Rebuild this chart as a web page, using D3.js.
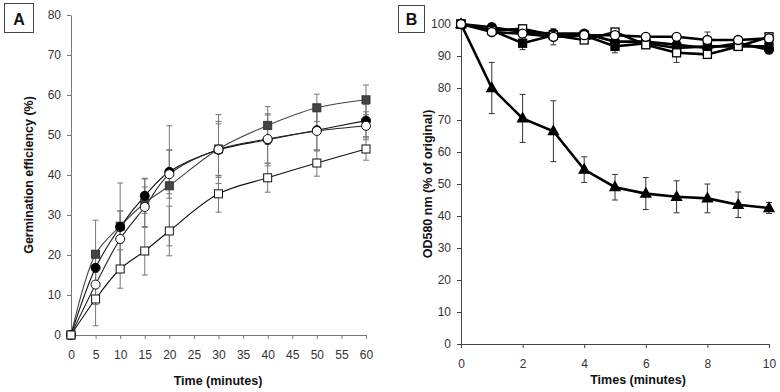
<!DOCTYPE html>
<html>
<head>
<meta charset="utf-8">
<script src="https://cdn.jsdelivr.net/npm/d3@7"></script>
<style>
  body { margin: 0; background: #fff; }
  text { font-family: "Liberation Sans", Arial, sans-serif; }
</style>
</head>
<body>
<svg id="chart" width="780" height="392"></svg>
<script>
// panel A data (germination efficiency, %)
const timeA = [0, 5, 10, 15, 20, 30, 40, 50, 60];
const aFilledSquare = [0, 20.2, 27.2, 33.0, 37.3, 46.5, 52.4, 56.8, 58.8];
const aFilledSquareErr = [0, 8.5, 10.8, 6.0, 15.0, 8.6, 4.7, 3.4, 3.7];
const aFilledCircle = [0, 16.8, 27.0, 34.8, 40.8, 46.3, 48.8, 51.2, 53.6];
const aFilledCircleErr = [0, 4.0, 4.0, 4.4, 5.5, 6.5, 6.5, 5.0, 4.0];
const aOpenCircle = [0, 12.6, 24.0, 32.0, 40.2, 46.4, 49.0, 51.0, 52.3];
const aOpenCircleErr = [0, 5.0, 7.0, 5.0, 6.0, 7.0, 6.0, 5.0, 3.5];
const aOpenSquare = [0, 9.0, 16.5, 21.0, 26.0, 35.3, 39.3, 43.0, 46.5];
const aOpenSquareErr = [0, 6.7, 4.8, 6.0, 6.2, 4.6, 3.6, 3.3, 2.8];
const ticksAx = d3.range(0, 61, 5);
const ticksAy = d3.range(0, 81, 10);

// panel B data (OD580 nm, % of original)
const timeB = [0, 1, 2, 3, 4, 5, 6, 7, 8, 9, 10];
const bTriangle = [100, 80, 70.5, 66.5, 54.5, 49, 47, 46, 45.5, 43.5, 42.5];
const bTriangleErr = [0, 8, 7.5, 9.5, 4, 4, 5, 5, 4.5, 4, 1.7];
const bOpenSquare = [100, 98, 98.5, 96.5, 95, 97.5, 93.5, 91, 90.5, 93, 96];
const bOpenSquareErr = [0, 1, 0.8, 1, 1, 1, 1, 3, 1, 1, 1];
const bOpenCircle = [100, 97.5, 97, 96, 96.5, 96.5, 96, 96, 95, 95, 95.5];
const bOpenCircleErr = [0, 1, 1, 2.5, 1, 1, 1, 1, 2.5, 1, 1];
const bFilledSquare = [100, 98, 94, 96.5, 96.5, 93, 94, 92.5, 93, 93, 93];
const bFilledSquareErr = [0, 1, 2, 1, 1, 2, 1, 1, 1, 1, 1];
const bFilledCircle = [100, 99, 97.5, 97, 97, 94.5, 94.5, 93.5, 92.5, 94, 92];
const bFilledCircleErr = [0, 1, 1, 1, 1, 1, 1, 1, 1, 1, 1];
const ticksBx = [0, 2, 4, 6, 8, 10];
const ticksBy = d3.range(0, 101, 10);

var svg = d3.select('#chart');
svg.append('rect').attr('width', 780).attr('height', 392).attr('fill', '#fff');

// ---- panel A ----
var xA = d3.scaleLinear().domain([0, 60]).range([71, 366]);
var yA = d3.scaleLinear().domain([0, 80]).range([335, 15]);

var gA = svg.append('g');

function styleAxis(g, color) {
  g.select('.domain').attr('stroke', color).attr('stroke-width', 1);
  g.selectAll('.tick line').attr('stroke', color);
  g.selectAll('.tick text').attr('fill', '#333').attr('font-size', 12);
}

gA.append('g')
  .attr('transform', 'translate(0,335)')
  .call(d3.axisBottom(xA).tickValues(ticksAx).tickSize(4).tickSizeOuter(0).tickPadding(11))
  .call(g => styleAxis(g, '#777'));

gA.append('g')
  .attr('transform', 'translate(71,0)')
  .call(d3.axisLeft(yA).tickValues(ticksAy).tickSize(4).tickSizeOuter(0).tickPadding(6))
  .call(g => styleAxis(g, '#777'));

function errorBars(g, x, y, xs, ys, es, color, cap, width) {
  xs.forEach(function(t, i) {
    if (!es[i]) return;
    var cx = x(t), y0 = y(ys[i] - es[i]), y1 = y(ys[i] + es[i]);
    g.append('line').attr('x1', cx).attr('x2', cx).attr('y1', y0).attr('y2', y1)
      .attr('stroke', color).attr('stroke-width', width);
    [y0, y1].forEach(function(yy) {
      g.append('line').attr('x1', cx - cap).attr('x2', cx + cap).attr('y1', yy).attr('y2', yy)
        .attr('stroke', color).attr('stroke-width', width);
    });
  });
}

function marker(g, kind, cx, cy, size, fill, stroke, sw) {
  var s = size / 2;
  if (kind == 'square') {
    g.append('rect').attr('x', cx - s).attr('y', cy - s).attr('width', size).attr('height', size)
      .attr('fill', fill).attr('stroke', stroke).attr('stroke-width', sw);
  } else if (kind == 'circle') {
    g.append('circle').attr('cx', cx).attr('cy', cy).attr('r', s)
      .attr('fill', fill).attr('stroke', stroke).attr('stroke-width', sw);
  } else {
    g.append('path')
      .attr('d', 'M' + cx + ',' + (cy - s - 1) + 'L' + (cx + s + 0.5) + ',' + (cy + s - 1) + 'L' + (cx - s - 0.5) + ',' + (cy + s - 1) + 'Z')
      .attr('fill', fill).attr('stroke', stroke).attr('stroke-width', sw);
  }
}

var seriesA = [
  {vals: aFilledSquare, err: aFilledSquareErr, kind: 'square', fill: '#444', stroke: '#333', line: '#444'},
  {vals: aFilledCircle, err: aFilledCircleErr, kind: 'circle', fill: '#000', stroke: '#000', line: '#111'},
  {vals: aOpenCircle, err: aOpenCircleErr, kind: 'circle', fill: '#fff', stroke: '#111', line: '#222'},
  {vals: aOpenSquare, err: aOpenSquareErr, kind: 'square', fill: '#fff', stroke: '#111', line: '#111'}
];

var ebA = gA.append('g');
seriesA.forEach(function(s) {
  errorBars(ebA, xA, yA, timeA, s.vals, s.err, '#777', 3, 1);
});

var lineA = d3.line().x(d => xA(d[0])).y(d => yA(d[1])).curve(d3.curveCatmullRom.alpha(0.5));
seriesA.forEach(function(s) {
  gA.append('path').attr('d', lineA(d3.zip(timeA, s.vals)))
    .attr('fill', 'none').attr('stroke', s.line).attr('stroke-width', 1.1);
});
seriesA.forEach(function(s) {
  timeA.forEach(function(t, i) {
    marker(gA, s.kind, xA(t), yA(s.vals[i]), s.kind == 'square' ? 8 : 9, s.fill, s.stroke, 1);
  });
});

gA.append('text').attr('x', 218).attr('y', 385).attr('text-anchor', 'middle')
  .attr('font-size', 12.5).attr('font-weight', 'bold').attr('fill', '#111').text('Time (minutes)');
gA.append('text').attr('transform', 'translate(33,175) rotate(-90)').attr('text-anchor', 'middle')
  .attr('font-size', 12.5).attr('font-weight', 'bold').attr('fill', '#111').text('Germination efficiency (%)');

gA.append('rect').attr('x', 4.5).attr('y', 3.5).attr('width', 29).attr('height', 29)
  .attr('fill', '#fff').attr('stroke', '#444').attr('stroke-width', 1);
gA.append('text').attr('x', 19).attr('y', 24.5).attr('text-anchor', 'middle')
  .attr('font-size', 16).attr('font-weight', 'bold').attr('fill', '#111').text('A');

// ---- panel B ----
var xB = d3.scaleLinear().domain([0, 10]).range([461, 769]);
var yB = d3.scaleLinear().domain([0, 100]).range([344, 24]);

var gB = svg.append('g');

gB.append('g')
  .attr('transform', 'translate(0,344)')
  .call(d3.axisBottom(xB).tickValues(ticksBx).tickSize(4).tickSizeOuter(0).tickPadding(11))
  .call(g => styleAxis(g, '#444'));

gB.append('g')
  .attr('transform', 'translate(461,0)')
  .call(d3.axisLeft(yB).tickValues(ticksBy).tickSize(4).tickSizeOuter(0).tickPadding(6))
  .call(g => styleAxis(g, '#444'));

var seriesB = [
  {vals: bTriangle, err: bTriangleErr, kind: 'triangle', fill: '#000'},
  {vals: bFilledSquare, err: bFilledSquareErr, kind: 'square', fill: '#000'},
  {vals: bFilledCircle, err: bFilledCircleErr, kind: 'circle', fill: '#000'},
  {vals: bOpenSquare, err: bOpenSquareErr, kind: 'square', fill: '#fff'},
  {vals: bOpenCircle, err: bOpenCircleErr, kind: 'circle', fill: '#fff'}
];

var ebB = gB.append('g');
seriesB.forEach(function(s) {
  errorBars(ebB, xB, yB, timeB, s.vals, s.err, '#333', 3, 1);
});

var lineB = d3.line().x(d => xB(d[0])).y(d => yB(d[1]));
seriesB.forEach(function(s) {
  gB.append('path').attr('d', lineB(d3.zip(timeB, s.vals)))
    .attr('fill', 'none').attr('stroke', '#000').attr('stroke-width', 2.6);
});
seriesB.forEach(function(s) {
  timeB.forEach(function(t, i) {
    marker(gB, s.kind, xB(t), yB(s.vals[i]), s.kind == 'square' ? 8 : 9, s.fill, '#000', 1.3);
  });
});

gB.append('text').attr('x', 638).attr('y', 384).attr('text-anchor', 'middle')
  .attr('font-size', 12.5).attr('font-weight', 'bold').attr('fill', '#111').text('Times (minutes)');
gB.append('text').attr('transform', 'translate(432,184) rotate(-90)').attr('text-anchor', 'middle')
  .attr('font-size', 12.5).attr('font-weight', 'bold').attr('fill', '#111').text('OD580 nm (% of original)');

gB.append('rect').attr('x', 398.5).attr('y', 5.5).attr('width', 26).attr('height', 27)
  .attr('fill', '#fff').attr('stroke', '#444').attr('stroke-width', 1);
gB.append('text').attr('x', 411.5).attr('y', 25).attr('text-anchor', 'middle')
  .attr('font-size', 16).attr('font-weight', 'bold').attr('fill', '#111').text('B');
</script>
</body>
</html>
